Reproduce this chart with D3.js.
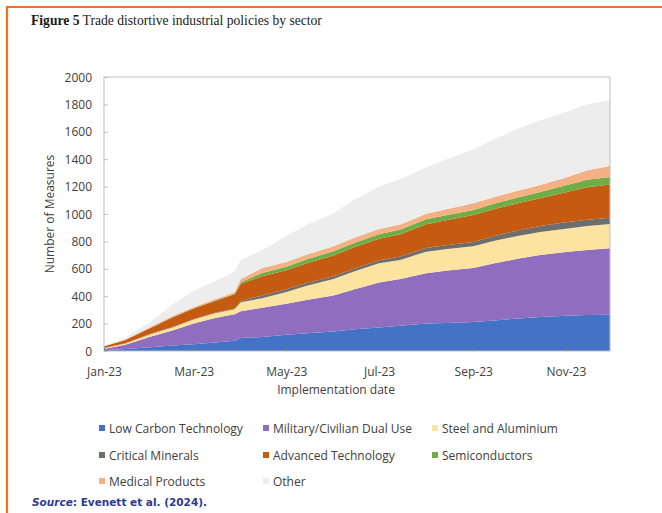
<!DOCTYPE html>
<html>
<head>
<meta charset="utf-8">
<script src="https://cdn.jsdelivr.net/npm/d3@7"></script>
<style>
  html, body { margin: 0; padding: 0; background: #fff; }
  svg { display: block; }
</style>
</head>
<body>
<svg id="chart" width="662" height="513"></svg>
<script>
// ---- data (cumulative number of measures by sector) ----
const dates = ["2023-01-01","2023-01-15","2023-02-01","2023-02-15","2023-03-01","2023-03-15","2023-03-28","2023-04-01","2023-04-15","2023-05-01","2023-05-15","2023-06-01","2023-06-15","2023-07-01","2023-07-15","2023-08-01","2023-08-15","2023-09-01","2023-09-15","2023-10-01","2023-10-15","2023-11-01","2023-11-15","2023-11-30"];
const lowCarbon = [5,15,28,40,50,62,75,95,102,118,130,142,158,172,185,200,205,212,222,238,248,258,263,265];
const military  = [10,30,77,110,150,178,193,195,213,227,245,263,292,328,340,368,383,393,418,437,452,464,475,485];
const steel     = [5,10,20,22,30,35,37,65,70,85,103,120,132,140,140,157,157,160,165,167,168,171,174,177];
const critical  = [1,2,3,4,4,4,5,10,20,20,20,20,21,22,25,27,28,30,35,40,44,46,46,46];
const advanced  = [12,23,42,69,76,86,105,125,140,140,145,152,156,158,163,173,183,197,197,198,203,220,237,242];
const semis     = [1,1,2,2,2,3,3,12,25,25,28,31,32,32,33,37,37,38,40,42,45,50,55,55];
const medical   = [2,3,6,8,10,10,12,23,35,35,35,37,38,38,38,40,43,48,48,50,52,58,70,80];
const other     = [4,11,37,85,118,132,150,140,130,190,218,240,276,310,330,340,365,392,420,455,470,478,480,482];

const seriesNames = ["Low Carbon Technology","Military/Civilian Dual Use","Steel and Aluminium","Critical Minerals","Advanced Technology","Semiconductors","Medical Products","Other"];
const seriesValues = [lowCarbon, military, steel, critical, advanced, semis, medical, other];
const seriesColors = ["#4472C4","#8F6EC0","#FCE4A0","#6E6E6E","#C55A11","#70AD47","#F4B183","#EDEDED"];
const yTicks = [0,200,400,600,800,1000,1200,1400,1600,1800,2000];
const xDomain = ["2023-01-01","2023-11-30"];

// ---- build table ----
const parse = d3.timeParse("%Y-%m-%d");
const table = dates.map((d, i) => {
  const row = { date: parse(d) };
  seriesNames.forEach((k, j) => row[k] = seriesValues[j][i]);
  return row;
});

const svg = d3.select("#chart");

// frame
svg.append("rect").attr("x",0).attr("y",0).attr("width",662).attr("height",513).attr("fill","#fff");
svg.append("path").attr("d","M7,514 L7,7 L663,7").attr("fill","none").attr("stroke","#F37021").attr("stroke-width",2.2);

// title
const title = svg.append("text").attr("x",31).attr("y",25)
  .attr("font-family","'Liberation Serif', 'DejaVu Serif', serif").attr("font-size",13.6).attr("fill","#1a1a1a");
title.append("tspan").attr("font-weight","bold").text("Figure 5");
title.append("tspan").text(" Trade distortive industrial policies by sector");

const plot = { left: 104, right: 610, top: 77, bottom: 351 };

const x = d3.scaleTime().domain(xDomain.map(parse)).range([plot.left, plot.right]);
const y = d3.scaleLinear().domain([0, 2000]).range([plot.bottom, plot.top]);

const stack = d3.stack().keys(seriesNames);
const layers = stack(table);

const area = d3.area()
  .x(d => x(d.data.date))
  .y0(d => y(d[0]))
  .y1(d => y(d[1]))
  .curve(d3.curveLinear);

svg.append("g").selectAll("path").data(layers).join("path")
  .attr("d", area)
  .attr("fill", (d, i) => seriesColors[i]);

// plot border
svg.append("rect").attr("x",plot.left).attr("y",plot.top)
  .attr("width",plot.right-plot.left).attr("height",plot.bottom-plot.top)
  .attr("fill","none").attr("stroke","#BFBFBF").attr("stroke-width",1);

const font = "'Open Sans', 'Liberation Sans', sans-serif";

// y axis
const yAxis = svg.append("g").attr("transform",`translate(${plot.left},0)`)
  .call(d3.axisRight(y).tickValues(yTicks).tickSize(4).tickFormat(""));
yAxis.select(".domain").remove();
yAxis.selectAll("line").attr("stroke","#BFBFBF");
svg.append("g").selectAll("text").data(yTicks).join("text")
  .attr("x", 92).attr("y", d => y(d) + 4.5)
  .attr("text-anchor","end").attr("font-family",font).attr("font-size",12).attr("fill","#404040")
  .text(d => d);

// x axis
const xAxis = svg.append("g").attr("transform",`translate(0,${plot.bottom})`)
  .call(d3.axisTop(x).ticks(d3.timeMonth.every(2)).tickSize(3).tickFormat(d3.timeFormat("%b-%y")));
xAxis.select(".domain").remove();
xAxis.selectAll("line").attr("stroke","#7F7F7F");
xAxis.selectAll("text").attr("y", 25).attr("dy", 0).attr("font-family",font).attr("font-size",12).attr("fill","#404040");

// axis titles
svg.append("text").attr("x", 336).attr("y", 394).attr("text-anchor","middle")
  .attr("font-family",font).attr("font-size",12).attr("fill","#404040").text("Implementation date");
svg.append("text").attr("transform","translate(54,214) rotate(-90)").attr("text-anchor","middle")
  .attr("font-family",font).attr("font-size",12).attr("fill","#404040").text("Number of Measures");

// legend
const legendCols = [99, 263, 432];
const legendRows = [428, 455, 481];
const leg = svg.append("g").selectAll("g").data(seriesNames).join("g")
  .attr("transform", (d, i) => `translate(${legendCols[i % 3]},${legendRows[Math.floor(i / 3)]})`);
leg.append("rect").attr("x",0).attr("y",-3).attr("width",6).attr("height",6)
  .attr("fill",(d,i) => seriesColors[i]);
leg.append("text").attr("x",10).attr("y",4.5)
  .attr("font-family",font).attr("font-size",12).attr("fill","#404040").text(d => d);

// source
const src = svg.append("text").attr("x",32).attr("y",506)
  .attr("font-family","'DejaVu Sans', Verdana, sans-serif").attr("font-size",10.5).attr("font-weight","bold").attr("fill","#2B3990");
src.append("tspan").attr("font-style","italic").text("Source");
src.append("tspan").text(": Evenett et al. (2024).");
</script>
</body>
</html>
